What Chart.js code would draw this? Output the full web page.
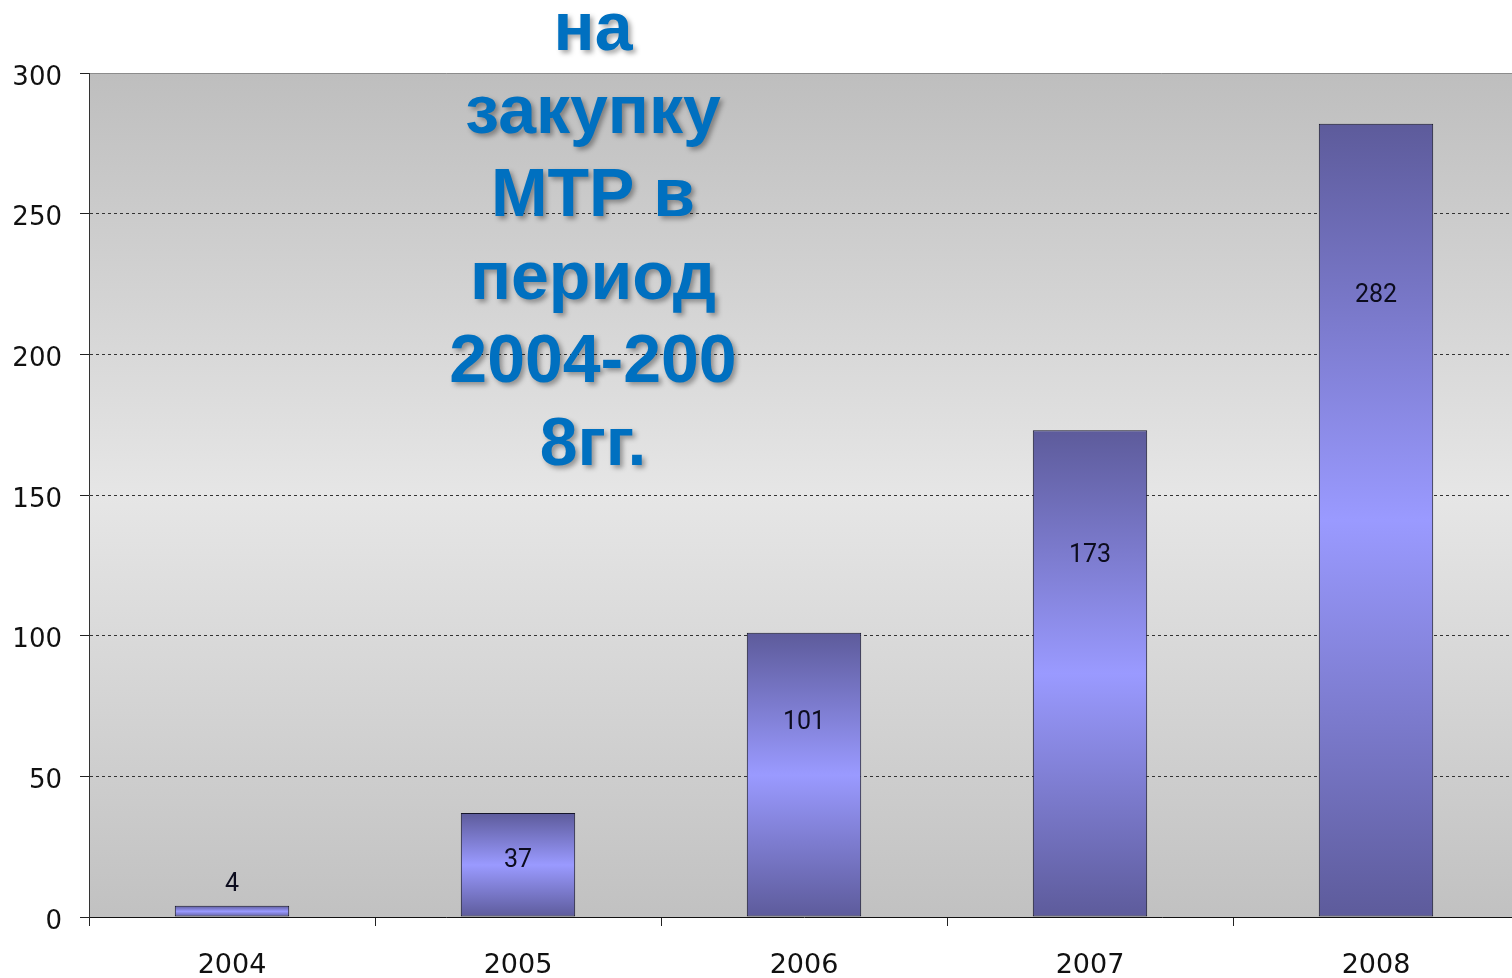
<!DOCTYPE html>
<html>
<head>
<meta charset="utf-8">
<script src="https://cdn.jsdelivr.net/npm/chart.js@4/dist/chart.umd.min.js"></script>
<style>
	html, body { margin: 0; padding: 0; background: #fff; overflow: hidden; }
	#wrap { width: 1524px; height: 978px; position: relative; }
</style>
</head>
<body>
<div id="wrap"><canvas id="myChart"></canvas></div>
<script>
// data
const years = ['2004', '2005', '2006', '2007', '2008']
const amounts = [4, 37, 101, 173, 282]
const yTicks = [0, 50, 100, 150, 200, 250, 300]
const titleLines = ['на', 'закупку', 'МТР в', 'период', '2004-200', '8гг.']

function barFill(c) {
	const chart = c.chart
	if (!chart.chartArea || c.raw === undefined) return '#9999ff'
	const y = chart.scales.y
	const top = y.getPixelForValue(c.raw)
	const bot = y.getPixelForValue(0)
	const g = chart.ctx.createLinearGradient(0, top, 0, bot)
	g.addColorStop(0, '#5d5b9b')
	g.addColorStop(0.5, '#9a9aff')
	g.addColorStop(1, '#5d5b9b')
	return g
}

// plot area background + top frame line
const plotBg = {
	id: 'plotBg',
	beforeDraw(chart) {
		const {ctx, chartArea: a} = chart
		const g = ctx.createLinearGradient(0, a.top, 0, a.bottom)
		g.addColorStop(0, '#bebebe')
		g.addColorStop(0.5, '#e6e6e6')
		g.addColorStop(1, '#c1c1c1')
		ctx.save()
		ctx.fillStyle = g
		ctx.fillRect(a.left, a.top, a.right - a.left, a.bottom - a.top)
		ctx.strokeStyle = '#8c8c8c'
		ctx.lineWidth = 1
		ctx.beginPath()
		ctx.moveTo(a.left, a.top + 0.5)
		ctx.lineTo(a.right, a.top + 0.5)
		ctx.stroke()
		ctx.restore()
	},
}

const valueLabels = {
	id: 'valueLabels',
	afterDatasetsDraw(chart) {
		const ctx = chart.ctx
		const meta = chart.getDatasetMeta(0)
		ctx.save()
		ctx.font = '25px Roboto'
		ctx.fillStyle = '#0c0c1e'
		ctx.textAlign = 'center'
		ctx.textBaseline = 'middle'
		meta.data.forEach((el, i) => {
			const h = el.base - el.y
			let ty
			if (h < 40) ty = el.y - 21
			else ty = el.y + 3 + 2.2 * Math.pow(h, 0.65)
			ctx.fillText(String(amounts[i]), el.x, ty)
		})
		ctx.restore()
	},
}

const bigTitle = {
	id: 'bigTitle',
	afterDraw(chart) {
		const ctx = chart.ctx
		ctx.save()
		ctx.font = 'bold 68px "Liberation Sans", Arial, sans-serif'
		ctx.textAlign = 'center'
		ctx.textBaseline = 'alphabetic'
		ctx.fillStyle = '#0070c0'
		ctx.shadowColor = 'rgba(0,0,0,0.35)'
		ctx.shadowBlur = 5
		ctx.shadowOffsetX = 3
		ctx.shadowOffsetY = 3
		titleLines.forEach((line, i) => {
			ctx.fillText(line, 593, 50 + i * 83)
		})
		ctx.restore()
	},
}

const ctx = document.getElementById('myChart')
new Chart(ctx, {
	type: 'bar',
	data: {
		labels: years,
		datasets: [
			{
				data: amounts,
				backgroundColor: barFill,
				borderColor: '#15152a',
				borderWidth: 1,
				borderSkipped: false,
				barPercentage: 0.4,
				categoryPercentage: 1,
			},
		],
	},
	options: {
		responsive: true,
		maintainAspectRatio: false,
		animation: false,
		layout: { padding: { top: 73, right: 5, left: 0, bottom: 0 } },
		plugins: {
			legend: { display: false },
			tooltip: { enabled: false },
		},
		scales: {
			x: {
				offset: true,
				grid: {
					offset: true,
					drawOnChartArea: false,
					tickLength: 9,
					tickColor: '#222',
				},
				border: { color: '#111', width: 1 },
				ticks: {
					color: '#111',
					font: { family: 'DejaVu Sans', size: 27 },
					padding: 24,
					maxRotation: 0,
				},
				afterFit(scale) { scale.height = 61 },
			},
			y: {
				min: 0,
				max: 300,
				afterBuildTicks(scale) {
					scale.ticks = yTicks.map(v => ({value: v}))
				},
				grid: {
					color: c => (c.tick && (c.tick.value === 300 || c.tick.value === 0)) ? 'rgba(0,0,0,0)' : '#333',
					tickBorderDash: [],
					tickColor: '#222',
					tickLength: 9,
				},
				border: { color: '#333', width: 1, dash: [3, 3] },
				ticks: {
					color: '#111',
					font: { family: 'DejaVu Sans', size: 26 },
					padding: 18,
					labelOffset: 5,
				},
				afterFit(scale) { scale.width = 89 },
			},
		},
	},
	plugins: [plotBg, valueLabels, bigTitle],
})
</script>
</body>
</html>
